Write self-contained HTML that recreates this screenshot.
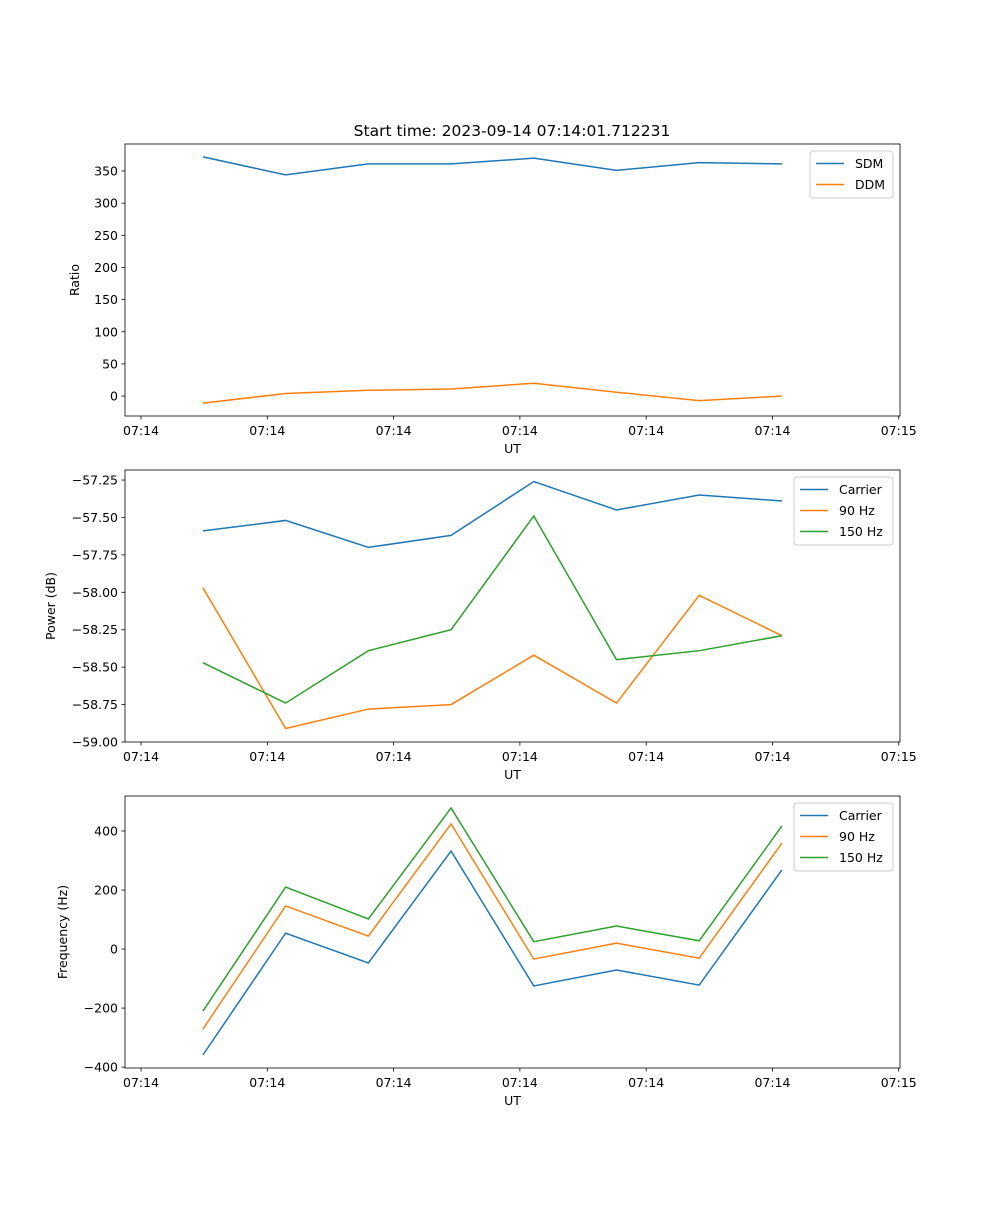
<!DOCTYPE html>
<html><head><meta charset="utf-8"><style>
body{margin:0;background:#fff}
svg{font-family:"DejaVu Sans","Liberation Sans",sans-serif}
</style></head><body>
<svg id="fig" width="1000" height="1200" xmlns="http://www.w3.org/2000/svg"></svg>
<script>
const times=[4.9,11.45,18.0,24.55,31.1,37.65,44.2,50.75];
const xTickVals=[0,10,20,30,40,50,60];
const xTickLabels=["07:14","07:14","07:14","07:14","07:14","07:14","07:15"];
const sdm=[372,344,361,361,370,351,363,361];
const ddm=[-11,4,9,11,20,6,-7,0];
const ratioTicks=[0,50,100,150,200,250,300,350];
const pCarrier=[-57.59,-57.52,-57.70,-57.62,-57.26,-57.45,-57.35,-57.39];
const p90=[-57.97,-58.91,-58.78,-58.75,-58.42,-58.74,-58.02,-58.29];
const p150=[-58.47,-58.74,-58.39,-58.25,-57.49,-58.45,-58.39,-58.29];
const powerTicks=[-59.0,-58.75,-58.5,-58.25,-58.0,-57.75,-57.5,-57.25];
const fCarrier=[-359,54,-47,332,-125,-71,-122,268];
const f90=[-271,146,44,424,-34,20,-31,359];
const f150=[-210,210,102,478,25,78,28,417];
const freqTicks=[-400,-200,0,200,400];

const svg=document.getElementById('fig');
const NS="http://www.w3.org/2000/svg";
function el(tag,attrs,parent){const e=document.createElementNS(NS,tag);for(const k in attrs)e.setAttribute(k,attrs[k]);(parent||svg).appendChild(e);return e;}
const X0=125,X1=900,xmin=-1.27,xmax=60.1;
const xs=v=>X0+(v-xmin)/(xmax-xmin)*(X1-X0);
const C=['#1f77b4','#ff7f0e','#2ca02c'];
const FS=12.5;

function panel(name,top,bot,ymin,ymax,ticks,fmt,ylabel,ylabelX,series,labels,legX,legW){
  const ys=v=>bot-(v-ymin)/(ymax-ymin)*(bot-top);
  const g=el('g',{});
  
  
  series.forEach((s,i)=>{
    const pl=el('polyline',{points:s.map((v,j)=>xs(times[j])+','+ys(v)).join(' '),fill:'none',stroke:C[i],'stroke-width':1.5},g);
    
    
  });
  el('rect',{x:X0,y:top,width:X1-X0,height:bot-top,fill:'none',stroke:'#000','stroke-width':0.8},g);
  xTickVals.forEach((v,i)=>{
    const x=xs(v);
    el('line',{x1:x,x2:x,y1:bot,y2:bot+3.5,stroke:'#000','stroke-width':0.8},g);
    const t=el('text',{x:x,y:bot+19,'font-size':FS,'text-anchor':'middle'},g);t.textContent=xTickLabels[i];
    
    
  });
  ticks.forEach(v=>{
    const y=ys(v);
    el('line',{x1:X0-3.5,x2:X0,y1:y,y2:y,stroke:'#000','stroke-width':0.8},g);
    const t=el('text',{x:X0-7,y:y+4.5,'font-size':FS,'text-anchor':'end'},g);t.textContent=fmt(v);
    
    
  });
  const xl=el('text',{x:(X0+X1)/2,y:bot+37,'font-size':FS,'text-anchor':'middle'},g);xl.textContent='UT';
  
  
  const ym=(top+bot)/2;
  const yl=el('text',{x:ylabelX,y:ym,'font-size':FS,'text-anchor':'middle',transform:`rotate(-90 ${ylabelX} ${ym})`},g);yl.textContent=ylabel;
  
  
  const lh=labels.length*21+5;
  const lg=el('g',{},g);
  
  
  el('rect',{x:legX,y:top+7,width:legW,height:lh,fill:'#fff',stroke:'#ccc',rx:3},lg);
  labels.forEach((l,i)=>{
    const y=top+7+12.5+i*21;
    el('line',{x1:legX+6,x2:legX+34,y1:y,y2:y,stroke:C[i],'stroke-width':1.5},lg);
    const t=el('text',{x:legX+45,y:y+4.5,'font-size':FS},lg);t.textContent=l;
    
    
  });
}
const tt=el('text',{x:512,y:136,'font-size':15.5,'text-anchor':'middle'});tt.textContent='Start time: 2023-09-14 07:14:01.712231';


panel('ratio',144,416,-31,392,ratioTicks,v=>String(v),'Ratio',79,[sdm,ddm],['SDM','DDM'],810,83);
panel('power',470,742,-59.0,-57.183,powerTicks,v=>v.toFixed(2).replace('-','\u2212'),'Power (dB)',55,[pCarrier,p90,p150],['Carrier','90 Hz','150 Hz'],794,99);
panel('frequency',796,1068,-403,518.6,freqTicks,v=>String(v).replace('-','\u2212'),'Frequency (Hz)',67,[fCarrier,f90,f150],['Carrier','90 Hz','150 Hz'],794,99);
</script>
</body></html>
